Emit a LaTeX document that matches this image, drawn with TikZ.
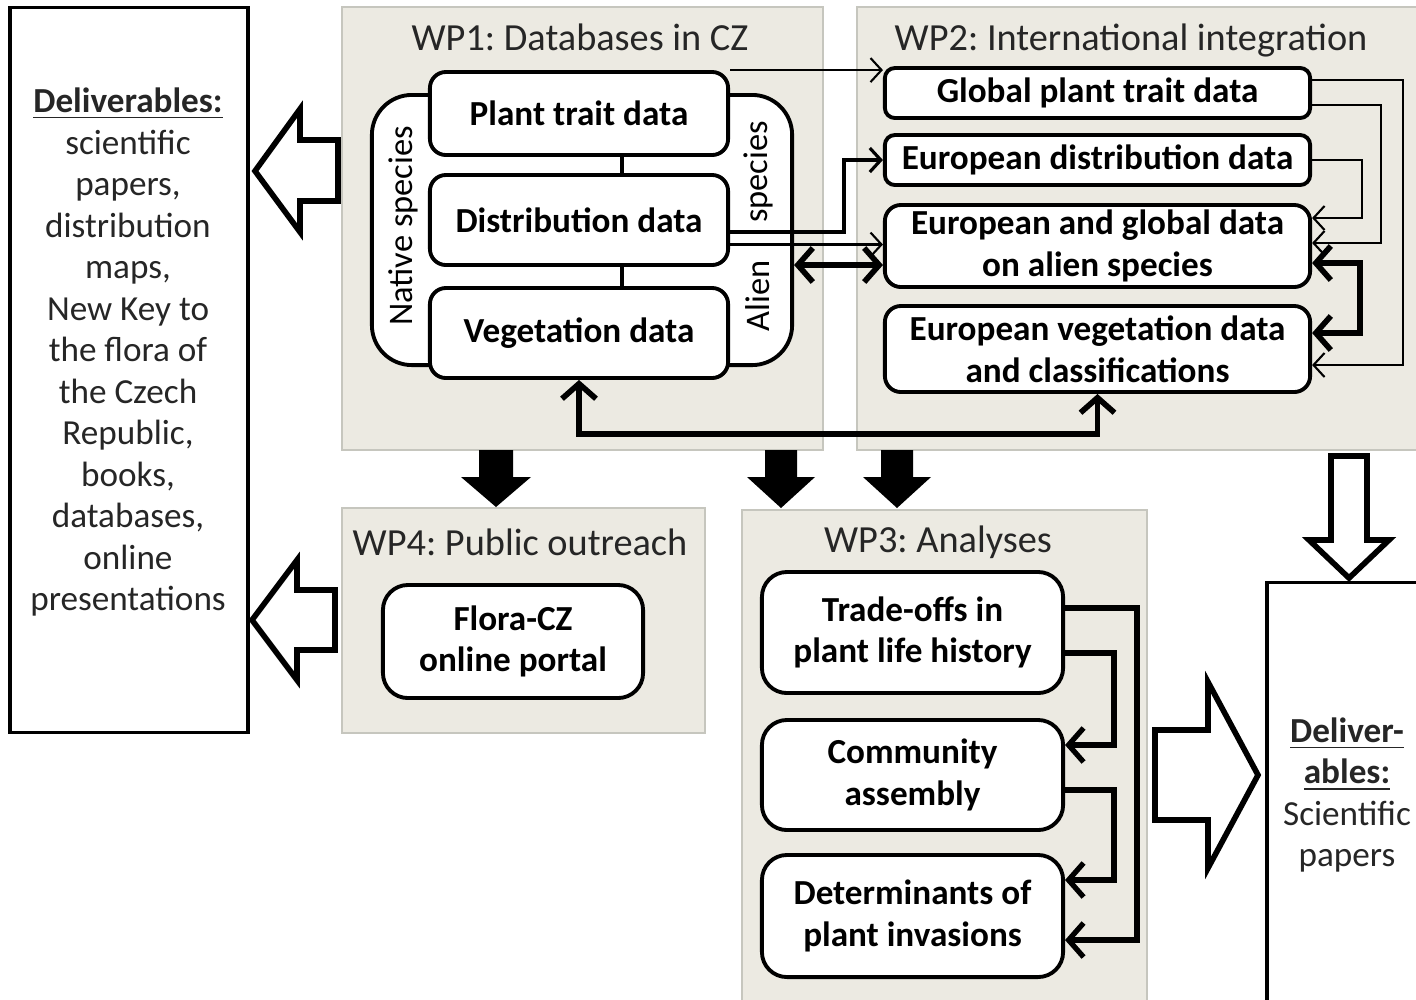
\documentclass[tikz,border=0pt]{standalone}
\usepackage{fontspec}
\setmainfont{Carlito}
\usetikzlibrary{arrows.meta}
\definecolor{panelgray}{RGB}{236,234,226}
\definecolor{panelline}{RGB}{198,198,190}
\frenchspacing
\begin{document}
\begin{tikzpicture}[x=0.01cm,y=-0.01cm,
  font=\fontsize{10}{11.8}\selectfont,
  panel/.style={rectangle,draw=panelline,fill=panelgray,line width=0.6pt,inner sep=0},
  wptitle/.style={anchor=base,font=\fontsize{10.9}{12}\selectfont,text=black!85},
  dbox/.style={rectangle,rounded corners=0.16cm,draw,fill=white,line width=1.1pt,align=center,
    font=\fontsize{10}{11.8}\selectfont\bfseries,inner sep=0},
  outbox/.style={rectangle,draw,fill=white,line width=0.9pt,inner sep=0},
  thinarr/.style={line width=0.6pt,-{Straight Barb[length=1.1mm,width=2.4mm]}},
  thickarr/.style={line width=1.5pt,-{Straight Barb[length=1.5mm,width=3.4mm]}},
  dblarr/.style={line width=1.6pt,{Straight Barb[length=1.5mm,width=3.4mm]}-{Straight Barb[length=1.5mm,width=3.4mm]}},
  hollowarr/.style={draw,fill=white,line width=1.6pt,line join=miter},
]
\useasboundingbox (0,0) rectangle (1416,999);

\draw (582.5,228.5) node[panel,minimum width=4.81cm,minimum height=4.43cm] (wp1) {};
\draw (1138.5,228.5) node[panel,minimum width=5.63cm,minimum height=4.43cm] (wp2) {};
\draw (523.5,620.5) node[panel,minimum width=3.63cm,minimum height=2.25cm] (wp4) {};
\draw (944.5,757.5) node[panel,minimum width=4.05cm,minimum height=4.95cm] (wp3) {};
\draw (580,50) node[wptitle] (t1) {WP1: Databases in CZ};
\draw (1131,50) node[wptitle] (t2) {WP2: International integration};
\draw (520,555) node[wptitle] (t4) {WP4: Public outreach};
\draw (938,552) node[wptitle] (t3) {WP3: Analyses};

\draw (129,370) node[outbox,minimum width=2.38cm,minimum height=7.24cm] (dl) {};
\draw (128,352) node[align=center,text=black!85] (dlt) {\underline{\textbf{Deliverables:}}\\scientific\\papers,\\distribution\\maps,\\New Key to\\the flora of\\the Czech\\Republic,\\books,\\databases,\\online\\presentations};
\draw (1348,798) node[outbox,minimum width=1.62cm,minimum height=4.3cm] (dr) {};
\draw (1347,795) node[align=center,text=black!85] (drt) {\underline{\textbf{Deliver-}}\\\underline{\textbf{ables:}}\\Scientific\\papers};

\draw (582,230) node[rectangle,rounded corners=0.4cm,draw,fill=white,line width=1.1pt,minimum width=4.2cm,minimum height=2.7cm] (af) {};
\draw (403,226) node[rotate=90,font=\fontsize{9.8}{11}\selectfont] (ns) {Native species};
\draw (758,172) node[rotate=90,font=\fontsize{9.8}{11}\selectfont] (as1) {species};
\draw (758,296) node[rotate=90,font=\fontsize{9.8}{11}\selectfont] (as2) {Alien};
\draw (579,113.5) node[dbox,minimum width=2.98cm,minimum height=0.83cm] (pt) {Plant trait data};
\draw (579,220) node[dbox,minimum width=2.98cm,minimum height=0.9cm] (dd) {Distribution data};
\draw (579,333) node[dbox,minimum width=2.98cm,minimum height=0.9cm] (vd) {Vegetation data};
\draw[line width=1pt] ([xshift=0.43cm]pt.south) -- ([xshift=0.43cm]dd.north);
\draw[line width=1pt] ([xshift=0.43cm]dd.south) -- ([xshift=0.43cm]vd.north);

\draw (1097.5,93) node[dbox,rounded corners=0.1cm,minimum width=4.25cm,minimum height=0.5cm] (gp) {Global plant trait data};
\draw (1097.5,160) node[dbox,rounded corners=0.1cm,minimum width=4.25cm,minimum height=0.5cm] (ed) {European distribution data};
\draw (1097.5,246) node[dbox,minimum width=4.25cm,minimum height=0.82cm] (eg) {European and global data\\on alien species};
\draw (1097.5,349) node[dbox,minimum width=4.25cm,minimum height=0.86cm] (ev) {European vegetation data\\and classifications};

\coordinate (d1) at ([yshift=-0.12cm]dd.east);
\coordinate (d2) at ([yshift=-0.245cm]dd.east);
\draw[thinarr] (pt.north east) -- (pt.north east -| gp.west);
\draw[thinarr,line width=0.9pt] (d1) -- ++(114,0) |- (ed.west);
\draw[thinarr] (d2) -- (d2 -| eg.west);
\draw[dblarr] (af.east |- 0,265) -- (eg.west |- 0,265);
\draw[thinarr] ([yshift=0.13cm]gp.east) -- ++(91,0) |- ([yshift=-0.16cm]ev.east);
\draw[thinarr] ([yshift=-0.12cm]gp.east) -- ++(69,0) |- ([yshift=0.03cm]eg.east);
\draw[thinarr] (ed.east) -- ++(50,0) |- ([yshift=0.28cm]eg.east);
\draw[dblarr] ([yshift=-0.17cm]eg.east) -- ++(48,0) |- ([yshift=0.16cm]ev.east);
\draw[dblarr] (vd.south) -- ++(0,54) -| (ev.south);

\draw (513,641.5) node[dbox,rounded corners=0.25cm,minimum width=2.6cm,minimum height=1.13cm] (fc) {Flora-CZ\\online portal};

\draw (912.5,632.5) node[dbox,rounded corners=0.25cm,minimum width=3.01cm,minimum height=1.21cm] (tr) {Trade-offs in\\plant life history};
\draw (912.5,775) node[dbox,rounded corners=0.25cm,minimum width=3.01cm,minimum height=1.1cm] (ca) {Community\\assembly};
\draw (912.5,916) node[dbox,rounded corners=0.25cm,minimum width=3.01cm,minimum height=1.22cm] (di) {Determinants of\\plant invasions};
\draw[thickarr] ([yshift=0.245cm]tr.east) -- ++(72,0) |- ([yshift=-0.24cm]di.east);
\draw[thickarr] ([yshift=-0.205cm]tr.east) -- ++(49,0) |- ([yshift=0.3cm]ca.east);
\draw[thickarr] ([yshift=-0.15cm]ca.east) -- ++(49,0) |- ([yshift=0.36cm]di.east);

\coordinate (h1) at (255,171);
\coordinate (h2) at (252,620);
\coordinate (h3) at (1258,775);
\coordinate (h4) at (1349,578);
\draw[hollowarr] (h1) -- ++(45,-62) -- ++(0,31) -- ++(38,0) -- ++(0,61) -- ++(-38,0) -- ++(0,31) -- cycle;
\draw[hollowarr] (h2) -- ++(45,-60) -- ++(0,30) -- ++(38,0) -- ++(0,60) -- ++(-38,0) -- ++(0,30) -- cycle;
\draw[hollowarr] (h3) -- ++(-50,-93) -- ++(0,48) -- ++(-53,0) -- ++(0,90) -- ++(53,0) -- ++(0,48) -- cycle;
\draw[hollowarr] (h4) -- ++(-40,-38) -- ++(22,0) -- ++(0,-84) -- ++(36,0) -- ++(0,84) -- ++(22,0) -- cycle;

\coordinate (a1) at (496,507);
\coordinate (a2) at (781,508);
\coordinate (a3) at (897,508);
\fill (a1) -- ++(-35,-30) -- ++(18,0) -- ++(0,-27) -- ++(34,0) -- ++(0,27) -- ++(18,0) -- cycle;
\fill (a2) -- ++(-34,-31) -- ++(18,0) -- ++(0,-27) -- ++(32,0) -- ++(0,27) -- ++(18,0) -- cycle;
\fill (a3) -- ++(-34,-31) -- ++(18,0) -- ++(0,-27) -- ++(32,0) -- ++(0,27) -- ++(18,0) -- cycle;
\end{tikzpicture}
\end{document}
